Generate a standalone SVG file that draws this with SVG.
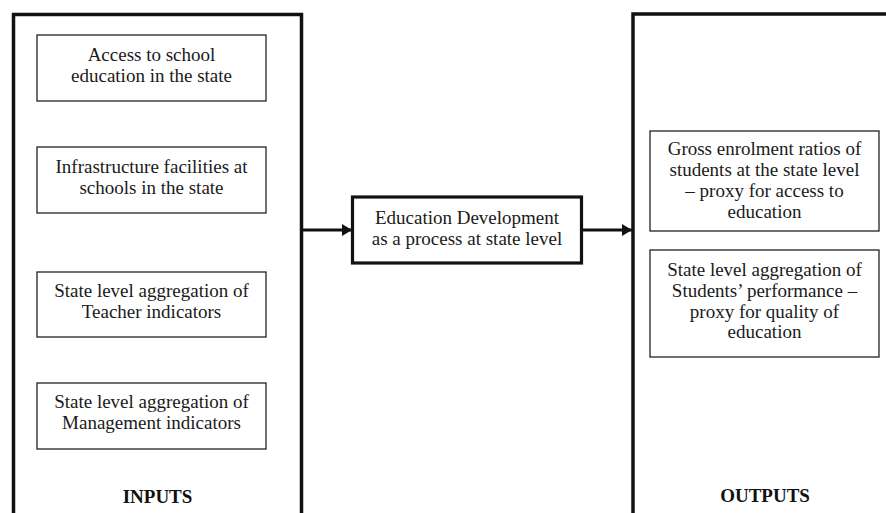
<svg xmlns="http://www.w3.org/2000/svg" width="886" height="513" viewBox="0 0 886 513">
  <style>
    .frame { fill: none; stroke: #111; stroke-width: 3.5; }
    .box { fill: #fff; stroke: #222; stroke-width: 1.3; }
    .proc { fill: #fff; stroke: #111; stroke-width: 3.2; }
    .t { font-family: "Liberation Serif", "Times New Roman", serif; font-size: 19px; fill: #1a1a1a; text-anchor: middle; }
    .h { font-family: "Liberation Serif", "Times New Roman", serif; font-size: 19px; font-weight: bold; fill: #111; text-anchor: middle; }
    .wire { stroke: #111; stroke-width: 3; fill: none; }
  </style>
  <defs>
    <marker id="head" viewBox="0 0 10 12" refX="10" refY="6" markerWidth="10" markerHeight="12" markerUnits="userSpaceOnUse" orient="auto">
      <path d="M0,0 L10,6 L0,12 Z" fill="#111"/>
    </marker>
  </defs>
  <rect width="886" height="513" fill="#fff"/>

  <!-- Inputs column -->
  <g id="inputs">
    <path class="frame" d="M13.5,520 V14.5 H301.5 V520"/>
    <text class="h" x="157.5" y="503">INPUTS</text>
  </g>
  <g id="access">
    <rect class="box" x="37" y="35" width="229" height="66"/>
    <text class="t" x="151.5" y="61">Access to school</text>
    <text class="t" x="151.5" y="82">education in the state</text>
  </g>
  <g id="infrastructure">
    <rect class="box" x="37" y="147" width="229" height="66"/>
    <text class="t" x="151.5" y="173">Infrastructure facilities at</text>
    <text class="t" x="151.5" y="194">schools in the state</text>
  </g>
  <g id="teacher">
    <rect class="box" x="37" y="272" width="229" height="65"/>
    <text class="t" x="151.5" y="297">State level aggregation of</text>
    <text class="t" x="151.5" y="318">Teacher indicators</text>
  </g>
  <g id="management">
    <rect class="box" x="37" y="383" width="229" height="66"/>
    <text class="t" x="151.5" y="408">State level aggregation of</text>
    <text class="t" x="151.5" y="429">Management indicators</text>
  </g>

  <!-- Central process -->
  <g id="process">
    <rect class="proc" x="352.5" y="197" width="229" height="66"/>
    <text class="t" x="467" y="224">Education Development</text>
    <text class="t" x="467" y="245">as a process at state level</text>
  </g>

  <!-- Outputs column -->
  <g id="outputs">
    <path class="frame" d="M633,520 V14 H897"/>
    <text class="h" x="765" y="502">OUTPUTS</text>
  </g>
  <g id="enrolment">
    <rect class="box" x="650" y="131" width="229" height="100"/>
    <text class="t" x="764.5" y="155">Gross enrolment ratios of</text>
    <text class="t" x="764.5" y="176">students at the state level</text>
    <text class="t" x="764.5" y="197">– proxy for access to</text>
    <text class="t" x="764.5" y="218">education</text>
  </g>
  <g id="performance">
    <rect class="box" x="650" y="250" width="229" height="107"/>
    <text class="t" x="764.5" y="276">State level aggregation of</text>
    <text class="t" x="764.5" y="297">Students’ performance –</text>
    <text class="t" x="764.5" y="317.5">proxy for quality of</text>
    <text class="t" x="764.5" y="338">education</text>
  </g>

  <!-- Connectors -->
  <g id="connectors">
    <line class="wire" x1="303" y1="230" x2="352" y2="230" marker-end="url(#head)"/>
    <line class="wire" x1="583" y1="230" x2="632" y2="230" marker-end="url(#head)"/>
  </g>
</svg>
